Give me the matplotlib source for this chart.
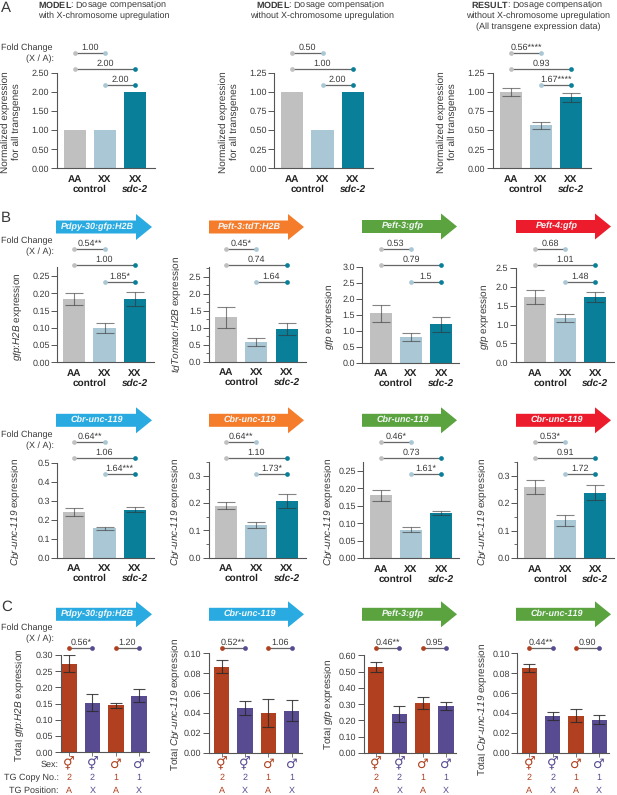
import matplotlib
matplotlib.use("Agg")
import matplotlib.pyplot as plt
from matplotlib.patches import Polygon
from matplotlib.ticker import MultipleLocator
from matplotlib.transforms import blended_transform_factory

plt.rcParams["font.family"] = ["Liberation Sans", "DejaVu Sans"]
plt.rcParams["text.hinting"] = "none"
plt.rcParams["text.hinting_factor"] = 1
plt.rcParams["mathtext.fontset"] = "custom"
plt.rcParams["mathtext.rm"] = "Liberation Sans"
plt.rcParams["mathtext.it"] = "Liberation Sans:italic"
plt.rcParams["mathtext.bf"] = "Liberation Sans:bold"
# mathcal keeps digits and hyphens italic, mathit does not
plt.rcParams["mathtext.cal"] = "Liberation Sans:italic"
plt.rcParams["mathtext.default"] = "regular"

W, H = 617, 795
TXT = "#3a3a3a"
GROUP_COLORS = ["#bfc0bf", "#a9c7d4", "#0a7f99"]
SEX_COLORS = ["#b0401f", "#584b91", "#b0401f", "#584b91"]
BLUE, ORANGE, GREEN, RED = "#29abe2", "#f47c2b", "#5aa33f", "#ed1c2c"

# panel A
a_model1 = [1.0, 1.0, 2.0]
a_model2 = [1.0, 0.5, 1.0]
a_result = [1.0, 0.56, 0.93]
a_result_err = [0.05, 0.04, 0.06]

# panel B, top row
b_pdpy = [0.183, 0.099, 0.183]
b_pdpy_err = [0.018, 0.015, 0.021]
b_peft3_tdt = [1.30, 0.58, 0.96]
b_peft3_tdt_err = [0.31, 0.13, 0.17]
b_peft3_gfp = [1.55, 0.80, 1.20]
b_peft3_gfp_err = [0.27, 0.12, 0.24]
b_peft4 = [1.73, 1.17, 1.74]
b_peft4_err = [0.19, 0.11, 0.13]

# panel B, bottom row
b_unc1 = [0.240, 0.155, 0.253]
b_unc1_err = [0.020, 0.008, 0.012]
b_unc2 = [0.190, 0.120, 0.208]
b_unc2_err = [0.013, 0.012, 0.026]
b_unc3 = [0.180, 0.081, 0.130]
b_unc3_err = [0.015, 0.007, 0.006]
b_unc4 = [0.260, 0.138, 0.238]
b_unc4_err = [0.026, 0.020, 0.028]

# panel C
c_pdpy = [0.273, 0.153, 0.145, 0.175]
c_pdpy_err = [0.026, 0.026, 0.008, 0.021]
c_unc1 = [0.0865, 0.045, 0.040, 0.0425]
c_unc1_err = [0.0065, 0.007, 0.014, 0.0105]
c_peft3 = [0.53, 0.24, 0.305, 0.29]
c_peft3_err = [0.03, 0.05, 0.036, 0.025]
c_unc2 = [0.085, 0.037, 0.0375, 0.0335]
c_unc2_err = [0.004, 0.004, 0.0065, 0.0045]

sex_signs = ["\u26a5", "\u26a5", "\u2642", "\u2642"]
copy_numbers = ["2", "2", "1", "1"]
tg_positions = ["A", "X", "A", "X"]

fig = plt.figure(figsize=(W / 100, H / 100), dpi=100)

# overlay in image pixels, for the labels and arrows around the axes
ov = fig.add_axes([0, 0, 1, 1], zorder=5)
ov.set_xlim(0, W)
ov.set_ylim(H, 0)
ov.axis("off")


def label(x, y, s, **kw):
    kw.setdefault("fontsize", 6.75)
    kw.setdefault("color", TXT)
    kw.setdefault("ha", "center")
    kw.setdefault("va", "center")
    # mathtext clips its last glyph without some room after it
    if "$" in s:
        s = s + "  "
    ov.text(x, y, s, **kw)


def make_axes(spine_x, end_x, top_y, zero_y, first_x, step, ymax, major, minor=None):
    ax = fig.add_axes([spine_x / W, 1 - zero_y / H, (end_x - spine_x) / W, (zero_y - top_y) / H])
    ax.set_xlim((spine_x - first_x) / step, (end_x - first_x) / step)
    ax.set_ylim(0, ymax)
    ax.patch.set_alpha(0)
    for side in ["top", "right"]:
        ax.spines[side].set_visible(False)
    for side in ["left", "bottom"]:
        ax.spines[side].set_color("#555555")
        ax.spines[side].set_linewidth(0.8)
    ax.yaxis.set_major_locator(MultipleLocator(major))
    if minor:
        ax.yaxis.set_minor_locator(MultipleLocator(minor))
    ax.tick_params(axis="y", which="major", length=4, width=0.7, color="#555555", labelsize=6.7,
                   labelcolor=TXT, pad=1.5)
    ax.tick_params(axis="y", which="minor", length=2, width=0.6, color="#555555")
    return ax


def bracket(ax, a, b, y, s, c_a, c_b, size=6.7):
    tr = blended_transform_factory(ax.transData, ov.transData)
    ov.plot([a, b], [y, y], color="#666666", lw=0.9, transform=tr, clip_on=False, zorder=2)
    ov.plot([a], [y], "o", ms=3.4, color=c_a, mew=0, transform=tr, clip_on=False, zorder=3)
    ov.plot([b], [y], "o", ms=3.4, color=c_b, mew=0, transform=tr, clip_on=False, zorder=3)
    ov.text((a + b) / 2, y - 1.2, s, ha="center", va="bottom", fontsize=size, color=TXT,
            transform=tr, clip_on=False)


def group_panel(box, values, err, folds, line_ys, fmt):
    spine_x, end_x, top_y, zero_y, first_x, step, ymax, major, minor = box
    ax = make_axes(spine_x, end_x, top_y, zero_y, first_x, step, ymax, major, minor)
    xs = list(range(len(values)))
    ax.bar(xs, values, width=0.73, color=GROUP_COLORS, zorder=2)
    if err is not None:
        ax.errorbar(xs, values, yerr=err, fmt="none", ecolor="#333333", alpha=0.6, elinewidth=0.8,
                    capsize=6.5, capthick=0.8, zorder=3)
    ax.yaxis.set_major_formatter(fmt)
    ax.set_xticks(xs)
    ax.set_xticklabels(["AA", "XX", "XX"], fontweight="bold", fontsize=7, color="#222222")
    ax.tick_params(axis="x", length=0, pad=4.5)
    tr = blended_transform_factory(ax.transData, ov.transData)
    ov.text(0.5, zero_y + 21, "control", ha="center", va="center", fontsize=7.2, fontweight="bold",
            color="#222222", transform=tr)
    ov.text(2, zero_y + 21, "sdc-2", ha="center", va="center", fontsize=7.2, fontweight="bold",
            style="italic", color="#222222", transform=tr)
    pairs = [(0, 1), (0, 2), (1, 2)]
    for (a, b), y, s in zip(pairs, line_ys, folds):
        bracket(ax, a, b, y, s, GROUP_COLORS[a], GROUP_COLORS[b])
    return ax


def sex_panel(box, values, err, folds, line_y, fmt):
    spine_x, end_x, top_y, zero_y, first_x, step, ymax, major, minor = box
    ax = make_axes(spine_x, end_x, top_y, zero_y, first_x, step, ymax, major, minor)
    xs = list(range(len(values)))
    ax.bar(xs, values, width=0.66, color=SEX_COLORS, zorder=2)
    ax.errorbar(xs, values, yerr=err, fmt="none", ecolor="#2a2a2a", alpha=0.85, elinewidth=0.8,
                capsize=4.5, capthick=0.8, zorder=3)
    ax.yaxis.set_major_formatter(fmt)
    ax.set_xticks(xs)
    ax.set_xticklabels([])
    ax.tick_params(axis="x", length=3, width=0.7, color="#777777")
    tr = blended_transform_factory(ax.transData, ov.transData)
    for x, sign, n, pos, c in zip(xs, sex_signs, copy_numbers, tg_positions, SEX_COLORS):
        ov.text(x, 764, sign, family="DejaVu Sans", fontsize=9.5, color=c, ha="center", va="center", transform=tr)
        ov.text(x, 778, n, fontsize=6.7, color=c, ha="center", va="center", transform=tr)
        ov.text(x, 790.5, pos, fontsize=6.7, color=c, ha="center", va="center", transform=tr)
    bracket(ax, 0, 1, line_y, folds[0], SEX_COLORS[0], SEX_COLORS[1])
    bracket(ax, 2, 3, line_y, folds[1], SEX_COLORS[2], SEX_COLORS[3])
    return ax


def arrow(x0, x1, yc, color, s):
    head = 16
    pts = [(x0, yc - 6.5), (x1 - head, yc - 6.5), (x1 - head, yc - 13), (x1, yc), (x1 - head, yc + 13),
           (x1 - head, yc + 6.5), (x0, yc + 6.5)]
    ov.add_patch(Polygon(pts, closed=True, facecolor=color, edgecolor="none"))
    label((x0 + x1 - 14) / 2, yc - 0.3, s, color="#f4f8f8", fontweight="bold", style="italic", fontsize=6.8)


def yaxis_label(x, y, s):
    label(x, y, s, rotation=90, fontsize=7.2, linespacing=1.25)


def fold_change(y1, y2):
    label(1, y1, "Fold Change", ha="left", fontsize=6.4)
    label(54, y2, "(X / A):", ha="right", fontsize=6.4)


f2 = "{x:.2f}"
f1 = "{x:.1f}"
fc = "$\\mathcal{Cbr\u2010unc\u2010119}$ expression"
tc = "Total $\\mathcal{Cbr\u2010unc\u2010119}$ expression"
ne = "Normalized expression\nfor all transgenes"

# panel A
a_lines = [52.7, 69, 85]
group_panel((56.7, 155, 72.7, 168.3, 74.7, 30.2, 2.5, 0.5, None), a_model1, None,
            ["1.00", "2.00", "2.00"], a_lines, f2)
group_panel((274.3, 372.7, 72.7, 168.3, 292.3, 30.2, 1.25, 0.25, None), a_model2, None,
            ["0.50", "1.00", "2.00"], a_lines, f2)
group_panel((492.7, 591, 72.7, 168.3, 511, 30.0, 1.25, 0.25, None), a_result, a_result_err,
            ["0.56****", "0.93", "1.67****"], a_lines, f2)

# panel B, top row
r1_lines = [249.3, 265.3, 281.7]
group_panel((57.3, 154, 266.7, 362.3, 74.3, 30.2, 0.277, 0.05, None), b_pdpy, b_pdpy_err,
            ["0.54**", "1.00", "1.85*"], r1_lines, f2)
group_panel((209, 306, 266.7, 361.7, 226, 30.3, 2.79, 0.5, 0.25), b_peft3_tdt, b_peft3_tdt_err,
            ["0.45*", "0.74", "1.64"], r1_lines, f1)
group_panel((362.3, 459, 267, 362.7, 380.7, 30.2, 3.0, 0.5, None), b_peft3_gfp, b_peft3_gfp_err,
            ["0.53", "0.79", "1.5"], r1_lines, f1)
group_panel((516, 614, 268, 362.3, 535, 30.2, 2.5, 0.5, None), b_peft4, b_peft4_err,
            ["0.68", "1.01", "1.48"], r1_lines, f1)

# panel B, bottom row
r2_lines = [442.3, 458.3, 474]
group_panel((57.3, 154, 462.7, 557.7, 74.3, 30.2, 0.5, 0.1, None), b_unc1, b_unc1_err,
            ["0.64**", "1.06", "1.64***"], r2_lines, f1)
group_panel((209, 306, 461.7, 557.7, 226, 30.3, 0.351, 0.1, 0.05), b_unc2, b_unc2_err,
            ["0.64**", "1.10", "1.73*"], r2_lines, f1)
group_panel((363.3, 459, 462.3, 558, 380.7, 30.2, 0.275, 0.05, None), b_unc3, b_unc3_err,
            ["0.46*", "0.73", "1.61*"], r2_lines, f2)
group_panel((517.3, 614, 461.7, 558, 535, 30.2, 0.351, 0.1, 0.05), b_unc4, b_unc4_err,
            ["0.53*", "0.91", "1.72"], r2_lines, f1)

# panel C
sex_panel((61, 149, 655, 752.3, 69, 23.4, 0.30, 0.05, None), c_pdpy, c_pdpy_err,
          ["0.56*", "1.20"], 648.3, f2)
sex_panel((209, 301.7, 653.3, 753, 221.7, 23.3, 0.10, 0.02, None), c_unc1, c_unc1_err,
          ["0.52**", "1.06"], 648.3, f2)
sex_panel((364, 456, 655.3, 753, 376, 23.3, 0.60, 0.10, None), c_peft3, c_peft3_err,
          ["0.46**", "0.95"], 648.3, f2)
sex_panel((517.3, 609, 653.3, 753, 529.3, 23.3, 0.10, 0.02, None), c_unc2, c_unc2_err,
          ["0.44**", "0.90"], 648.3, f2)

# titles and side labels
label(1, 8, "A", ha="left", fontsize=11)
label(1, 218, "B", ha="left", fontsize=11)
label(1, 607, "C", ha="left", fontsize=11)

label(104, 5.5, "$\\mathbf{MODEL}$: Dosage compensation")
label(104, 16, "with X-chromosome upregulation")
label(322, 5.5, "$\\mathbf{MODEL}$: Dosage compensation")
label(322, 16, "without X-chromosome upregulation")
label(538.5, 5.5, "$\\mathbf{RESULT}$: Dosage compensation")
label(538.5, 16, "without X-chromosome upregulation")
label(538.5, 27, "(All transgene expression data)")

fold_change(48, 58.7)
fold_change(241, 251.7)
fold_change(435, 446)
fold_change(628, 639)

yaxis_label(11, 121.7, ne)
yaxis_label(229, 121.7, ne)
yaxis_label(447, 121.7, ne)

yaxis_label(18, 315, "$\\mathcal{gfp}$:$\\mathcal{H2B}$ expression")
yaxis_label(177.7, 313, "$\\mathcal{tdTomato}$:$\\mathcal{H2B}$ expression")
yaxis_label(330.7, 315, "$\\mathcal{gfp}$ expression")
yaxis_label(485.7, 315, "$\\mathcal{gfp}$ expression")

yaxis_label(16.7, 510, fc)
yaxis_label(176.7, 510, fc)
yaxis_label(329.3, 510, fc)
yaxis_label(483.7, 510, fc)

yaxis_label(20.7, 703, "Total $\\mathcal{gfp}$:$\\mathcal{H2B}$ expression")
yaxis_label(176.7, 703, tc)
yaxis_label(329.3, 703, "Total $\\mathcal{gfp}$ expression")
yaxis_label(483.7, 708, tc)

label(58.7, 765, "Sex:", ha="right", fontsize=6.4)
label(58.7, 778, "TG Copy No.:", ha="right", fontsize=6.4)
label(58.7, 790.5, "TG Position:", ha="right", fontsize=6.4)

# promoter arrows
arrow(56, 152, 227, BLUE, "Pdpy-30:gfp:H2B")
arrow(209, 304, 227, ORANGE, "Peft-3:tdT:H2B")
arrow(362, 457, 226.5, GREEN, "Peft-3:gfp")
arrow(516, 611, 226.5, RED, "Peft-4:gfp")
arrow(56, 152, 420.3, BLUE, "Cbr-unc-119")
arrow(209, 304, 420.3, ORANGE, "Cbr-unc-119")
arrow(362, 457, 420.3, GREEN, "Cbr-unc-119")
arrow(516, 611, 420.3, RED, "Cbr-unc-119")
arrow(56, 152, 614.3, BLUE, "Pdpy-30:gfp:H2B")
arrow(209, 304, 614.3, BLUE, "Cbr-unc-119")
arrow(362, 457, 614.3, GREEN, "Peft-3:gfp")
arrow(516, 611, 614.3, GREEN, "Cbr-unc-119")

fig.savefig("out.png", dpi=100, facecolor="white")
